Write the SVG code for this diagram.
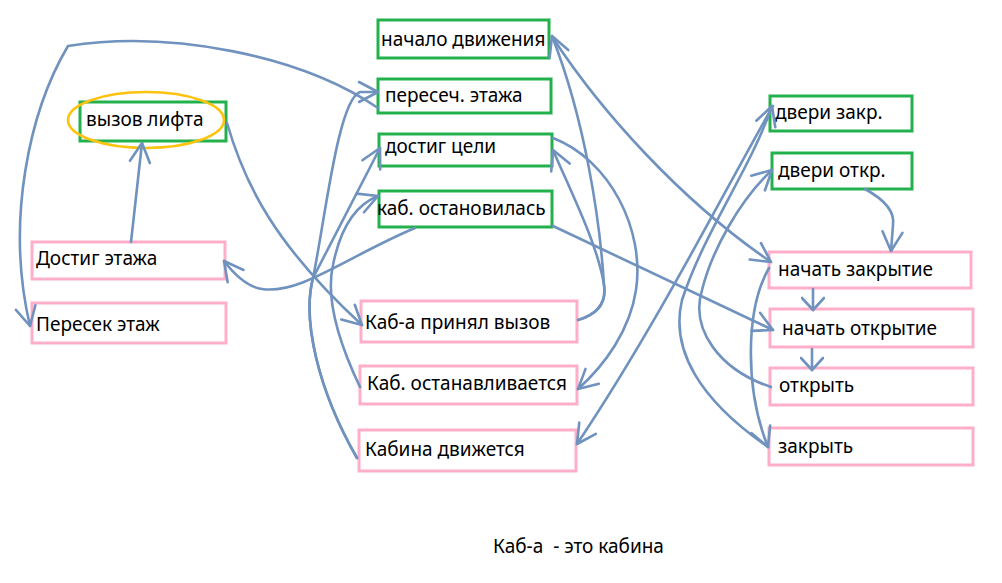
<svg xmlns="http://www.w3.org/2000/svg" width="1002" height="583" viewBox="0 0 1002 583">
<style>
.ev{fill:#fff;stroke:#22B14C;stroke-width:3}
.ac{fill:#fff;stroke:#FFAEC9;stroke-width:3}
text{font-family:"Noto Sans","Open Sans","DejaVu Sans",sans-serif;font-size:19px;fill:#000}
.c path{fill:none;stroke:#7092BE;stroke-width:2.6;stroke-linecap:round;stroke-linejoin:round}
.c path.a{marker-end:url(#ah)}
.c path.s{marker-end:url(#sh)}
</style>
<defs>
<marker id="ah" markerUnits="userSpaceOnUse" viewBox="0 0 24 24" refX="22" refY="12" markerWidth="24" markerHeight="24" orient="auto">
<path d="M3,2 L22,12 L3,22" fill="none" stroke="#7092BE" stroke-width="2.6" stroke-linecap="round" stroke-linejoin="round"/>
</marker>
<marker id="sh" markerUnits="userSpaceOnUse" viewBox="0 0 24 24" refX="20" refY="12" markerWidth="24" markerHeight="24" orient="auto">
<path d="M8,1 L20,12 L8,23" fill="none" stroke="#7092BE" stroke-width="2.6" stroke-linecap="round" stroke-linejoin="round"/>
</marker>
</defs>
<rect width="1002" height="583" fill="#fff"/>

<g id="n-nachalo"><rect class="ev" x="378" y="20" width="171" height="38"/><text x="381" y="46">начало движения</text></g>
<g id="n-peresech"><rect class="ev" x="378" y="79" width="173" height="34"/><text x="385" y="102">пересеч. этажа</text></g>
<g id="n-dostig-celi"><rect class="ev" x="379" y="134" width="173" height="32"/><text x="385" y="153">достиг цели</text></g>
<g id="n-ostanovilas"><rect class="ev" x="379" y="191" width="173" height="36"/><text x="377" y="215">каб. остановилась</text></g>
<g id="n-vyzov"><rect class="ev" x="80" y="102" width="146" height="39"/><text x="86" y="126">вызов лифта</text><ellipse cx="146" cy="120" rx="78" ry="28" fill="none" stroke="#FFC20E" stroke-width="2.6"/></g>
<g id="n-dveri-zakr"><rect class="ev" x="770" y="96" width="142" height="35"/><text x="775" y="119">двери закр.</text></g>
<g id="n-dveri-otkr"><rect class="ev" x="772" y="153" width="140" height="36"/><text x="778" y="177">двери откр.</text></g>

<g id="n-dostig-etazha"><rect class="ac" x="32" y="242" width="193" height="37"/><text x="36" y="265">Достиг этажа</text></g>
<g id="n-peresek-etazh"><rect class="ac" x="32" y="303" width="194" height="40"/><text x="36" y="331">Пересек этаж</text></g>
<g id="n-prinyal"><rect class="ac" x="361" y="301" width="216" height="41"/><text x="365" y="329">Каб-а принял вызов</text></g>
<g id="n-ostanavlivaetsya"><rect class="ac" x="360" y="366" width="217" height="38"/><text x="367" y="390">Каб. останавливается</text></g>
<g id="n-dvizhetsya"><rect class="ac" x="359" y="430" width="217" height="41"/><text x="365" y="456">Кабина движется</text></g>
<g id="n-nach-zakr"><rect class="ac" x="769" y="252" width="202" height="36"/><text x="778" y="276">начать закрытие</text></g>
<g id="n-nach-otkr"><rect class="ac" x="770" y="309" width="203" height="38"/><text x="782" y="335">начать открытие</text></g>
<g id="n-otkryt"><rect class="ac" x="770" y="368" width="203" height="37"/><text x="779" y="392">открыть</text></g>
<g id="n-zakryt"><rect class="ac" x="769" y="428" width="204" height="37"/><text x="778" y="453">закрыть</text></g>

<g id="connectors" class="c">
<path class="a" d="M378,108 C300,55 170,30 68,46 C30,110 5,220 30,326"/>
<path class="a" d="M131,242 L142,143"/>
<path class="a" d="M227,123 C245,185 275,245 362,325"/>
<path class="a" d="M415,228 C350,255 300,295 262,289 C248,287 234,274 224,261"/>
<path class="a" d="M357,458 C318,390 302,320 313,278 C325,220 338,100 360,92 L378,92"/>
<path class="a" d="M357,458 C318,390 302,320 313,278 L380,148"/>
<path class="a" d="M360,387 C340,345 325,300 333,265 C340,230 355,205 378,196"/>
<path class="a" d="M578,320 C595,315 607,305 604,285 C600,220 585,120 552,36"/>
<path class="a" d="M578,320 C595,315 607,305 604,285 C598,245 570,190 553,150"/>
<path class="a" d="M553,138 C610,160 645,230 636,290 C630,330 605,365 578,389"/>
<path class="a" d="M553,226 L773,330"/>
<path class="a" d="M553,38 C600,110 680,200 771,262"/>
<path class="a" d="M773,106 C730,180 660,320 577,444"/>
<path class="a" d="M768,447 C700,400 670,350 682,300 C705,230 750,170 772,106"/>
<path class="a" d="M771,387 C720,370 690,330 702,290 C712,250 740,200 772,170"/>
<path class="a" d="M769,268 C745,310 745,390 768,447"/>
<path class="a" d="M865,189 C885,200 895,212 893,225 L891,251"/>
<path class="s" d="M813,289 L813,310"/>
<path class="s" d="M812,349 L812,370"/>
</g>

<text x="493" y="553" style="white-space:pre">Каб-а  - это кабина</text>
</svg>
